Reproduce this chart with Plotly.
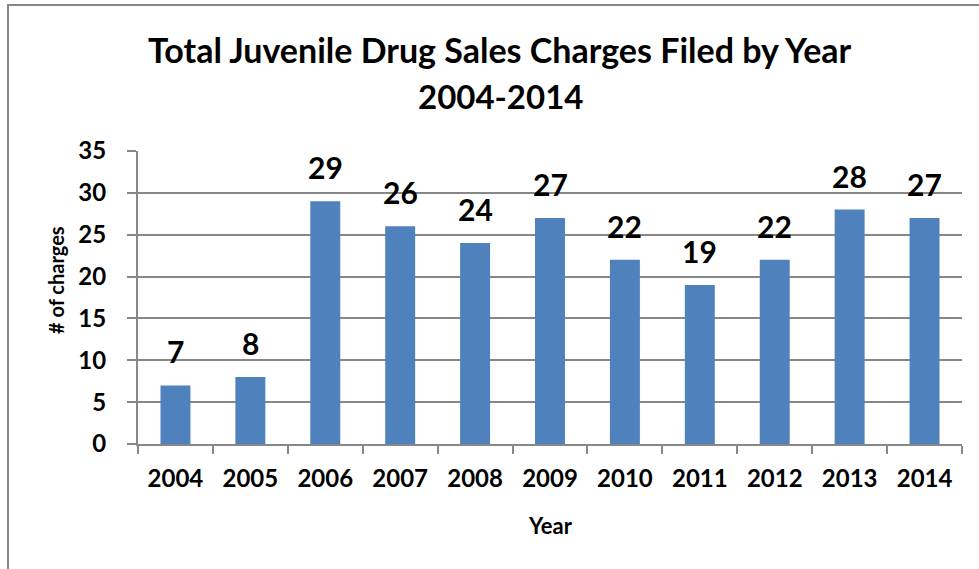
import plotly.graph_objects as go

years = ["2004", "2005", "2006", "2007", "2008", "2009", "2010", "2011", "2012", "2013", "2014"]
charges = [7, 8, 29, 26, 24, 27, 22, 19, 22, 28, 27]
title_line1 = "Total Juvenile Drug Sales Charges Filed by Year"
title_line2 = "2004-2014"

FONT = "Lato"
bar_color = "#4F81BD"
grid = "#878787"

PL, PR, PT, PB = 138, 17, 151, 125
W, H = 979, 569
pw, ph = W - PL - PR, H - PT - PB

fig = go.Figure()
fig.add_trace(go.Bar(x=years, y=charges, marker=dict(color=bar_color, line=dict(width=0)),
                     hoverinfo="x+y"))

annotations = []
for i, v in enumerate(charges):
    annotations.append(dict(x=i, y=v, xref="x", yref="y", text=f"<b>{v}</b>", showarrow=False,
                            yanchor="middle", xanchor="center", yshift=34,
                            font=dict(family=FONT, size=30, color="black")))

tx = (500 - PL) / pw
annotations.append(dict(x=tx, xref="paper", y=1, yref="paper", yshift=102, text=f"<b>{title_line1}</b>",
                        showarrow=False, yanchor="middle", xanchor="center",
                        font=dict(family=FONT, size=34, color="black")))
annotations.append(dict(x=tx, xref="paper", y=1, yref="paper", yshift=55, text=f"<b>{title_line2}</b>",
                        showarrow=False, yanchor="middle", xanchor="center",
                        font=dict(family=FONT, size=33, color="black")))
annotations.append(dict(x=(550 - PL) / pw, xref="paper", y=0, yref="paper", yshift=-81, text="<b>Year</b>",
                        showarrow=False, yanchor="middle", xanchor="center",
                        font=dict(family=FONT, size=22, color="black")))
annotations.append(dict(x=0, xref="paper", xshift=56 - PL, y=(444 - 280) / ph, yref="paper",
                        text="<b># of charges</b>", textangle=-90,
                        showarrow=False, yanchor="middle", xanchor="center",
                        font=dict(family=FONT, size=20, color="black")))

fig.update_layout(
    width=W, height=H,
    margin=dict(l=PL, r=PR, t=PT, b=PB, autoexpand=False),
    paper_bgcolor="white", plot_bgcolor="white",
    bargap=0.6,
    showlegend=False,
    font=dict(family=FONT, color="black"),
    annotations=annotations,
    xaxis=dict(
        type="category",
        range=[-0.5, len(years) - 0.5],
        showline=True, linecolor=grid, linewidth=2,
        ticks="outside", ticklen=8, tickcolor=grid, tickwidth=2,
        tickson="boundaries",
        tickangle=0,
        ticklabelstandoff=12,
        tickfont=dict(family=FONT, size=24, color="black", weight="bold"),
        showgrid=False,
        automargin=False,
    ),
    yaxis=dict(
        range=[0, 35], dtick=5, tick0=0,
        showline=True, linecolor=grid, linewidth=2,
        ticks="outside", ticklen=9, tickcolor=grid, tickwidth=2,
        showgrid=True, gridcolor=grid, gridwidth=2,
        zeroline=False,
        ticklabelstandoff=16,
        tickfont=dict(family=FONT, size=24, color="black", weight="bold"),
        automargin=False,
    ),
    shapes=[dict(type="rect", xref="paper", yref="paper",
                 x0=(8 - PL) / pw, x1=(W + 20 - PL) / pw,
                 y0=-(PB + 20) / ph, y1=1 + (PT - 5) / ph,
                 line=dict(color=grid, width=2), fillcolor="rgba(0,0,0,0)", layer="below")],
)

fig.write_html("out.html", config={"displayModeBar": False},
               post_script="document.body.style.margin='0';document.body.style.padding='0';document.body.style.overflow='hidden';")
